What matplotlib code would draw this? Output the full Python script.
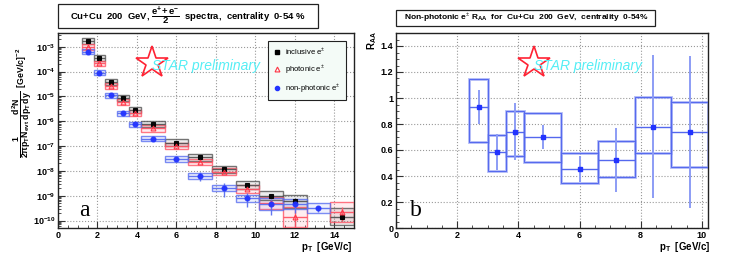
import numpy as np
import matplotlib
matplotlib.use('Agg')
import matplotlib.pyplot as plt
from matplotlib.patches import Rectangle
from matplotlib.lines import Line2D
from matplotlib.ticker import MultipleLocator, LogLocator, NullFormatter

plt.rcParams['font.family'] = ['Liberation Sans', 'DejaVu Sans']
plt.rcParams['mathtext.fontset'] = 'custom'
plt.rcParams['mathtext.rm'] = 'Liberation Sans'
plt.rcParams['mathtext.it'] = 'Liberation Sans:italic'
plt.rcParams['mathtext.bf'] = 'Liberation Sans:bold'

# ---- datos panel a: espectros ----
pt_lo = np.array([1.2, 1.8, 2.4, 3.0, 3.6, 4.2, 5.4, 6.6, 7.8, 9.0, 10.2, 11.4, 12.6, 13.8])
pt_hi = np.array([1.8, 2.4, 3.0, 3.6, 4.2, 5.4, 6.6, 7.8, 9.0, 10.2, 11.4, 12.6, 13.8, 15.0])
pt = (pt_lo + pt_hi) / 2

nan = np.nan
incl = np.array([1.74e-3, 3.4e-4, 3.8e-5, 8.5e-6, 2.9e-6, 7.8e-7, 1.37e-7, 3.5e-8,
                 1.17e-8, 2.6e-9, 1.0e-9, 5.9e-10, nan, 1.45e-10])
incl_err = np.array([2e-5, 5e-6, 6e-7, 1.5e-7, 6e-8, 2e-8, 4e-9, 1.5e-9,
                     6e-10, 2e-10, 1e-10, 1e-10, nan, 5e-11])
incl_sys = np.array([0.12, 0.12, 0.12, 0.12, 0.12, 0.13, 0.13, 0.13, 0.14, 0.16, 0.18, 0.25, nan, 0.35])

phot = np.array([1.0e-3, 2.1e-4, 2.5e-5, 5.8e-6, 2.1e-6, 5.1e-7, 1.0e-7, 2.3e-8,
                 9.1e-9, 1.85e-9, 5.0e-10, 1.35e-10, nan, 2.2e-10])
phot_err = np.array([1e-5, 3e-6, 4e-7, 1e-7, 4e-8, 1.5e-8, 3e-9, 1e-9,
                     5e-10, 2e-10, 1.5e-10, 1.28e-10, nan, 1.2e-10])
phot_sys = np.array([0.12, 0.12, 0.12, 0.12, 0.12, 0.13, 0.13, 0.13, 0.14, 0.16, 0.25, 0.4, nan, 0.4])

nonphot = np.array([6.3e-4, 9.1e-5, 1.1e-5, 2.1e-6, 7.4e-7, 1.95e-7, 2.9e-8, 6.3e-9,
                    2.1e-9, 8.0e-10, 4.7e-10, 4.7e-10, 3.1e-10, nan])
nonphot_err = np.array([1e-5, 2e-6, 3e-7, 8e-8, 4e-8, 1.5e-8, 4e-9, 2.3e-9,
                        1.2e-9, 4.5e-10, 3e-10, 2.6e-10, 9e-11, nan])
nonphot_sys = np.array([0.1, 0.1, 0.1, 0.1, 0.1, 0.1, 0.12, 0.12, 0.12, 0.14, 0.25, 0.2, 0.2, nan])

# ---- datos panel b: R_AA ----
r_pt = np.array([2.7, 3.3, 3.9, 4.8, 6.0, 7.2, 8.4, 9.6])
r_xerr = np.array([0.3, 0.3, 0.3, 0.6, 0.6, 0.6, 0.6, 0.6])
raa = np.array([0.93, 0.585, 0.74, 0.70, 0.455, 0.525, 0.78, 0.74])
raa_err = np.array([0.13, 0.135, 0.22, 0.09, 0.10, 0.245, 0.55, 0.585])
raa_sys_hi = np.array([1.15, 0.718, 0.903, 0.885, 0.577, 0.667, 1.006, 0.97])
raa_sys_lo = np.array([0.66, 0.435, 0.556, 0.507, 0.35, 0.396, 0.575, 0.466])

W, H = 736, 267
fig = plt.figure(figsize=(W / 100, H / 100), dpi=100)


def px_ax(x0, y0, x1, y1):
    return [x0 / W, 1 - y1 / H, (x1 - x0) / W, (y1 - y0) / H]


def fx(x):
    return x / W


def fy(y):
    return 1 - y / H


axa = fig.add_axes(px_ax(58, 33, 354, 228))
axb = fig.add_axes(px_ax(396, 33, 708, 228))

# estilo tipo ROOT
for ax in (axa, axb):
    for s in ax.spines.values():
        s.set_linewidth(1.0)
        s.set_color('#222222')
    ax.tick_params(which='both', direction='in', top=False, right=False,
                   labelsize=6.5, pad=2, color='#333333')
    ax.tick_params(which='major', length=5, width=0.8)
    ax.tick_params(which='minor', length=2.5, width=0.6)
    ax.grid(True, which='major', linestyle=':', color='#999999', linewidth=0.8)
    ax.set_axisbelow(True)

# ---- panel a ----
axa.set_yscale('log')
axa.set_xlim(0, 15)
axa.set_ylim(10 ** -10.3, 10 ** -2.45)
axa.xaxis.set_minor_locator(MultipleLocator(0.5))
axa.yaxis.set_minor_locator(LogLocator(base=10, subs=np.arange(2, 10), numticks=100))
axa.yaxis.set_minor_formatter(NullFormatter())
ydec = np.arange(-10, -2)
axa.set_yticks(10.0 ** ydec)
axa.set_yticklabels([r'$\mathbf{10^{%d}}$' % d for d in ydec], fontsize=6.5)
axa.set_xticks(np.arange(0, 15, 2))
axa.set_xticklabels([str(v) for v in range(0, 15, 2)], fontweight='bold', fontsize=6.5)

series = [
    (incl, incl_err, incl_sys, 'black', '#555555', 's', 'black'),
    (phot, phot_err, phot_sys, '#ff3344', '#ff5566', '^', 'none'),
    (nonphot, nonphot_err, nonphot_sys, '#2233ff', '#5a6ff0', 'o', '#2233ff'),
]
for vals, errs, sys, col, boxcol, mk, mfc in series:
    for i in range(len(pt)):
        if np.isnan(vals[i]):
            continue
        lo = vals[i] * 10 ** -sys[i]
        hi = vals[i] * 10 ** sys[i]
        axa.add_patch(Rectangle((pt_lo[i], lo), pt_hi[i] - pt_lo[i], hi - lo,
                                facecolor=boxcol, alpha=0.1, edgecolor='none', zorder=2))
        axa.add_patch(Rectangle((pt_lo[i], lo), pt_hi[i] - pt_lo[i], hi - lo,
                                fill=False, edgecolor=boxcol, lw=1.0, alpha=0.8, zorder=3))
    ok = ~np.isnan(vals)
    yl = np.minimum(errs[ok], vals[ok] * 0.97)
    axa.errorbar(pt[ok], vals[ok], yerr=[yl, errs[ok]],
                 xerr=[pt[ok] - pt_lo[ok], pt_hi[ok] - pt[ok]],
                 fmt=mk, ms=3.5, color=col, mfc=mfc, mec=col, mew=0.8,
                 ecolor=boxcol, elinewidth=1.0, capsize=0, zorder=5, alpha=0.95)

# leyenda
leg_items = [
    Line2D([], [], ls='none', marker='s', ms=3, color='black'),
    Line2D([], [], ls='none', marker='^', ms=3.5, color='#ff3344', mfc='none', mew=0.8),
    Line2D([], [], ls='none', marker='o', ms=3, color='#2233ff'),
]
leg = axa.legend(leg_items, [r'inclusive e$^{\pm}$', r'photonic e$^{\pm}$', r'non-photonic e$^{\pm}$'],
                 loc='upper left', bbox_to_anchor=(0.709, 0.96), fontsize=5.5,
                 frameon=True, fancybox=False, borderpad=0.7, labelspacing=0.9,
                 handletextpad=0.6, handlelength=1.0, borderaxespad=0)
leg.get_frame().set_edgecolor('#222222')
leg.get_frame().set_facecolor('#f4fbf7')
leg.get_frame().set_linewidth(0.8)
leg.get_frame().set_alpha(1)

axa.text(0.07, 0.09, 'a', transform=axa.transAxes, fontsize=17,
         family='Liberation Serif', va='center', ha='left')

# ---- panel b ----
axb.set_xlim(0, 10.2)
axb.set_ylim(0, 1.5)
axb.xaxis.set_minor_locator(MultipleLocator(0.5))
axb.yaxis.set_minor_locator(MultipleLocator(0.05))
axb.set_yticks(np.arange(0, 1.41, 0.2))
axb.set_yticklabels(['0', '0.2', '0.4', '0.6', '0.8', '1', '1.2', '1.4'], fontweight='bold', fontsize=6.5)
axb.set_xticks(np.arange(0, 10.1, 2))
axb.set_xticklabels(['0', '2', '4', '6', '8', '10'], fontweight='bold', fontsize=6.5)

for i in range(len(r_pt)):
    axb.add_patch(Rectangle((r_pt[i] - r_xerr[i], raa_sys_lo[i]), 2 * r_xerr[i],
                            raa_sys_hi[i] - raa_sys_lo[i], fill=False,
                            edgecolor='#9aa6f5', lw=2.0, alpha=0.8, zorder=2))
    axb.add_patch(Rectangle((r_pt[i] - r_xerr[i], raa_sys_lo[i]), 2 * r_xerr[i],
                            raa_sys_hi[i] - raa_sys_lo[i], fill=False,
                            edgecolor='#5468ee', lw=0.7, zorder=3))
axb.errorbar(r_pt, raa, yerr=raa_err, fmt='none', ecolor='#8c9cf5',
             elinewidth=1.4, capsize=0, zorder=4)
axb.errorbar(r_pt, raa, xerr=r_xerr, fmt='s', ms=3.2, color='#2233ff',
             ecolor='#5468ee', elinewidth=1.0, capsize=0, zorder=5)

axb.text(0.045, 0.09, 'b', transform=axb.transAxes, fontsize=17,
         family='Liberation Serif', va='center', ha='left')

# ---- titulos con caja ----
fig.patches.append(Rectangle((fx(58), fy(28.3)), fx(318) - fx(58), fy(4.3) - fy(28.3),
                             transform=fig.transFigure, fill=False,
                             edgecolor='#222222', lw=0.9))
fig.text(fx(188), fy(16.3),
         r'Cu+Cu  200  GeV, $\mathbf{\dfrac{e^{+}\!+e^{-}}{2}}$  spectra,  centrality  0-54 %',
         ha='center', va='center', fontsize=6.8, fontweight='bold')

fig.patches.append(Rectangle((fx(396), fy(26)), fx(655) - fx(396), fy(10) - fy(26),
                             transform=fig.transFigure, fill=False,
                             edgecolor='#222222', lw=0.9))
fig.text(fx(526), fy(18.2),
         r'Non-photonic e$^{\pm}$ R$_{\mathbf{AA}}$  for  Cu+Cu  200  GeV,  centrality  0-54%',
         ha='center', va='center', fontsize=6, fontweight='bold')

# ---- etiquetas de ejes ----
fig.text(fx(353), fy(247), r'p$_{\mathbf{T}}$  [GeV/c]', ha='right', va='center',
         fontsize=7, fontweight='bold')
fig.text(fx(711), fy(247), r'p$_{\mathbf{T}}$  [GeV/c]', ha='right', va='center',
         fontsize=7, fontweight='bold')
fig.text(fx(372), fy(31), r'R$_{\mathbf{AA}}$', ha='center', va='top', rotation=90,
         fontsize=7, fontweight='bold')
fig.text(fx(22), fy(48),
         r'$\mathbf{\dfrac{1}{2\pi p_{T} N_{evt}}\,\dfrac{d^{2}N}{dp_{T}\,dy}}$  [GeV/c]$^{\mathbf{-2}}$',
         ha='center', va='top', rotation=90, fontsize=6.3, fontweight='bold')

# ---- STAR preliminary ----
for sx, sy in ((152, 63), (534, 63)):
    fig.lines.append(Line2D([fx(sx)], [fy(sy)], transform=fig.transFigure, marker='*',
                            ms=24, mfc='none', mec='#ff2233', mew=1.2, ls='none'))
    fig.text(fx(sx), fy(sy + 3), 'STAR preliminary', ha='left', va='center',
             fontsize=10, style='italic', color='#55eef5')

fig.savefig('out.png', dpi=100)
